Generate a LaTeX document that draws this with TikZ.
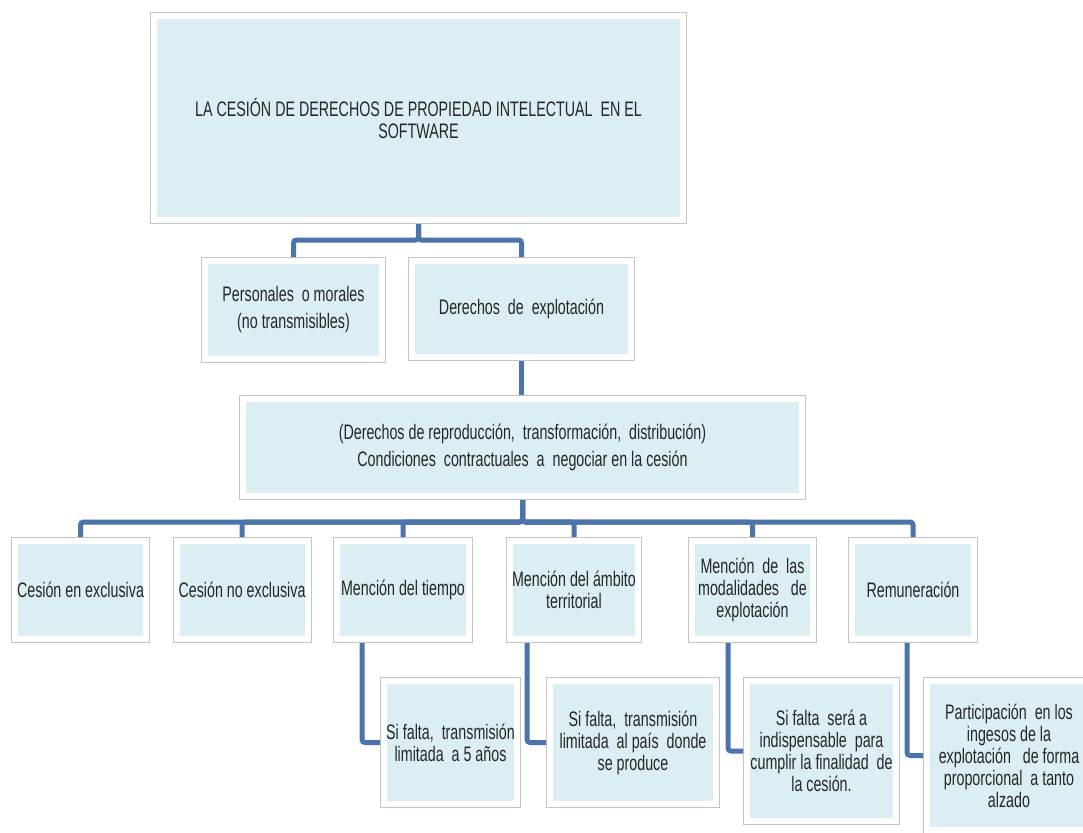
\documentclass[tikz,border=0pt]{standalone}
\usepackage{fontspec}
\setmainfont{Liberation Sans}[FakeStretch=0.68]
\usetikzlibrary{calc, positioning}

\definecolor{cajaazul}{HTML}{DBEEF4}
\definecolor{lineaazul}{HTML}{4A74AB}
\definecolor{marcogris}{HTML}{C4C4C4}

\tikzset{
    caja/.style={rectangle, fill=cajaazul, draw=white, line width=6pt,
        preaction={draw=marcogris, line width=8pt},
        outer sep=4pt, inner sep=2pt, align=center, text=black!85,
        font=\fontsize{21}{22}\selectfont},
    cajaalta/.style={caja, font=\fontsize{21}{27}\selectfont},
    enlace/.style={draw=lineaazul, line width=5pt, rounded corners=3pt},
}

\begin{document}
\begin{tikzpicture}[x=1pt, y=-1pt]
                        \clip (0,0) rectangle (1083,832);
                        \fill[white] (0,0) rectangle (1083,832);

                        \node[caja, minimum width=529, minimum height=204] (titulo) at (418.5,118)
                            {LA CESIÓN DE DERECHOS DE PROPIEDAD INTELECTUAL~ EN EL\\ SOFTWARE};

                        \node[cajaalta, minimum width=177, minimum height=98] (personales) at (293.5,310)
                            {Personales~ o morales\\ (no transmisibles)};
                        \node[cajaalta, minimum width=219, minimum height=96] (explotacion) at (521.5,309)
                            {Derechos~ de~ explotación};

                        \node[cajaalta, minimum width=559, minimum height=97] (condiciones) at (522.5,447.5)
                            {(Derechos de reproducción,~ transformación,~ distribución)\\
                             Condiciones~ contractuales~ a~ negociar en la cesión};

                        \node[caja, minimum width=131, minimum height=98] (exclusiva) at (80.5,590) {Cesión en exclusiva};
                        \node[caja, minimum width=130, minimum height=98] (noexclusiva) at (242,590) {Cesión no exclusiva};
                        \node[caja, minimum width=132, minimum height=98] (tiempo) at (403,590) {Mención del tiempo};
                        \node[caja, minimum width=120, minimum height=98] (ambito) at (574,590) {Mención del ámbito\\ territorial};
                        \node[caja, minimum width=121, minimum height=98] (modalidades) at (752.5,590)
                            {Mención~ de~ las\\ modalidades~~ de\\ explotación};
                        \node[caja, minimum width=122, minimum height=98] (remuneracion) at (913,590) {Remuneración};

                        \node[caja, minimum width=133, minimum height=123] (sitiempo) at (450.5,742.5)
                            {Si falta,~ transmisión\\ limitada~ a 5 años};
                        \node[caja, minimum width=166, minimum height=123] (siambito) at (633,742.5)
                            {Si falta,~ transmisión\\ limitada~ al país~ donde\\ se produce};
                        \node[caja, minimum width=149, minimum height=140] (simodal) at (821.5,751)
                            {Si falta~ será a\\ indispensable~ para\\ cumplir la finalidad~ de\\ la cesión.};
                        \node[caja, minimum width=164, minimum height=149] (participacion) at (1009,755.5)
                            {Participación~ en los\\ ingesos de la\\ explotación~~ de forma\\ proporcional~ a tanto\\ alzado};

                        \draw[enlace] (titulo.south) -- ++(0,16) -| (personales.north);
                        \draw[enlace] (titulo.south) -- ++(0,16) -| (explotacion.north);
                        \draw[enlace] (explotacion.south) -- (explotacion.south |- condiciones.north);

                        \foreach \hijo in {exclusiva, noexclusiva, tiempo, ambito, modalidades, remuneracion}
                            \draw[enlace] (condiciones.south) -- ++(0,22) -| (\hijo.north);

                        \draw[enlace] ($(tiempo.south -| sitiempo.west)+(-18,0)$) |- (sitiempo.west);
                        \draw[enlace] ($(ambito.south -| siambito.west)+(-19,0)$) |- (siambito.west);
                        \draw[enlace] ($(modalidades.south -| simodal.west)+(-15,0)$) |- (simodal.west);
                        \draw[enlace] ($(remuneracion.south -| participacion.west)+(-16,0)$) |- (participacion.west);
                    \end{tikzpicture}
\end{document}
